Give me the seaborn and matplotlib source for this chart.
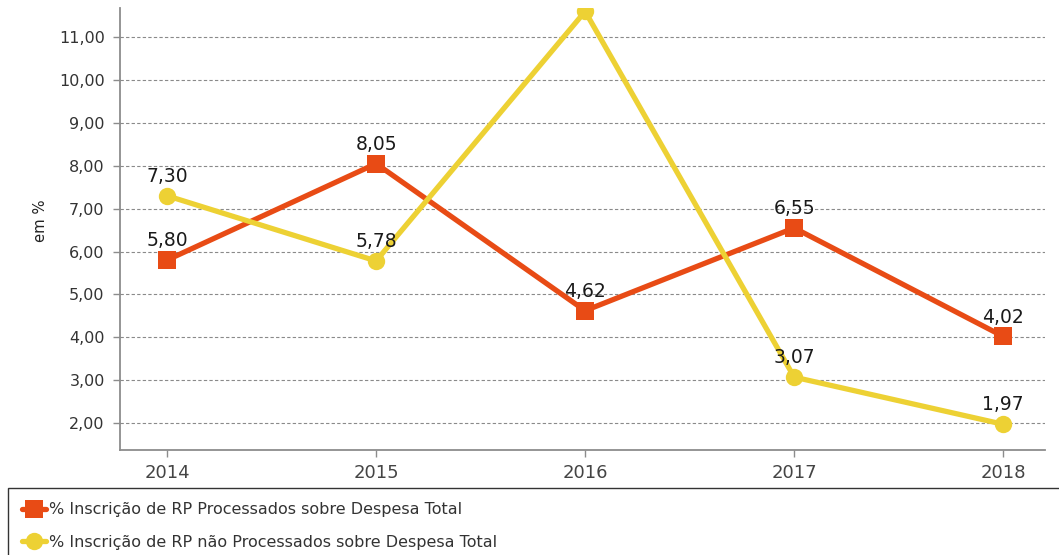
import matplotlib
matplotlib.use("Agg")
import matplotlib.pyplot as plt
from matplotlib.ticker import FuncFormatter, MultipleLocator
from matplotlib.lines import Line2D
import seaborn as sns
import pandas as pd

years = [2014, 2015, 2016, 2017, 2018]
rp_processados = [5.80, 8.05, 4.62, 6.55, 4.02]
rp_nao_processados = [7.30, 5.78, 11.60, 3.07, 1.97]
series_names = [
    "% Inscrição de RP Processados sobre Despesa Total",
    "% Inscrição de RP não Processados sobre Despesa Total",
]
colors = ["#E84B15", "#EDD134"]
markers = ["s", "o"]

df = pd.DataFrame({
    "ano": years * 2,
    "valor": rp_processados + rp_nao_processados,
    "serie": [series_names[0]] * len(years) + [series_names[1]] * len(years),
})

sns.set_style("white")
plt.rcParams["font.family"] = ["DejaVu Sans"]

fig = plt.figure(figsize=(10.59, 5.55), dpi=100)
ax = fig.add_axes([120 / 1059, 1 - 450 / 555, (1045 - 120) / 1059, (450 - 8) / 555])

sns.lineplot(
    data=df, x="ano", y="valor", hue="serie", style="serie",
    palette=colors, markers=markers, dashes=False, ax=ax,
    linewidth=3.8, markersize=12.5, markeredgewidth=0, legend=False,
)
for ln in ax.get_lines():
    ln.set_clip_on(True)

ax.set_xlim(2014 - 0.225, 2018 + 0.2)
ax.set_ylim(1.37, 11.68)
ax.yaxis.set_major_locator(MultipleLocator(1))
ax.set_xticks(years)
ax.set_xticklabels([str(y) for y in years])
ax.yaxis.set_major_formatter(FuncFormatter(lambda v, _: f"{v:.2f}".replace(".", ",")))
ax.grid(axis="y", color="#8a8a8a", linestyle=(0, (3, 2)), linewidth=0.8)
ax.grid(axis="x", visible=False)
ax.set_axisbelow(True)
ax.set_xlabel("")
ax.set_ylabel("em %", fontsize=10.7, color="#222222")
ax.yaxis.set_label_coords(-72 / 925, (450 - 221) / 442)

for side in ("top", "right"):
    ax.spines[side].set_visible(False)
for side in ("left", "bottom"):
    ax.spines[side].set_color("#8c8c8c")
    ax.spines[side].set_linewidth(1.3)
ax.tick_params(axis="both", length=5, width=1, color="#8c8c8c",
               labelcolor="#333333", left=True, bottom=True)
ax.tick_params(axis="y", labelsize=11.5, pad=6)
ax.tick_params(axis="x", labelsize=13, pad=5, labelcolor="#444444")

# value labels above each point
for vals in (rp_processados, rp_nao_processados):
    for x, v in zip(years, vals):
        if v > ax.get_ylim()[1]:
            continue
        ax.annotate(f"{v:.2f}".replace(".", ","), (x, v), xytext=(0, 10),
                    textcoords="offset points", ha="center", va="baseline",
                    fontsize=13.5, color="#1a1a1a")

handles = [
    Line2D([], [], color=c, marker=m, linewidth=3.8, markersize=12.5, markeredgewidth=0)
    for c, m in zip(colors, markers)
]
leg = fig.legend(
    handles, series_names, loc="upper left",
    bbox_to_anchor=(8 / 1059, 0, 1.0, 1 - 488 / 555), mode="expand",
    ncol=1, frameon=True, fancybox=False, handlelength=1.5, handletextpad=0.15,
    borderpad=0.9, labelspacing=1.1, borderaxespad=0,
    prop={"family": "DejaVu Sans", "size": 11.5},
)
leg.get_frame().set_edgecolor("black")
leg.get_frame().set_linewidth(1.0)
for t in leg.get_texts():
    t.set_color("#333333")

fig.savefig("out.png", dpi=100)
